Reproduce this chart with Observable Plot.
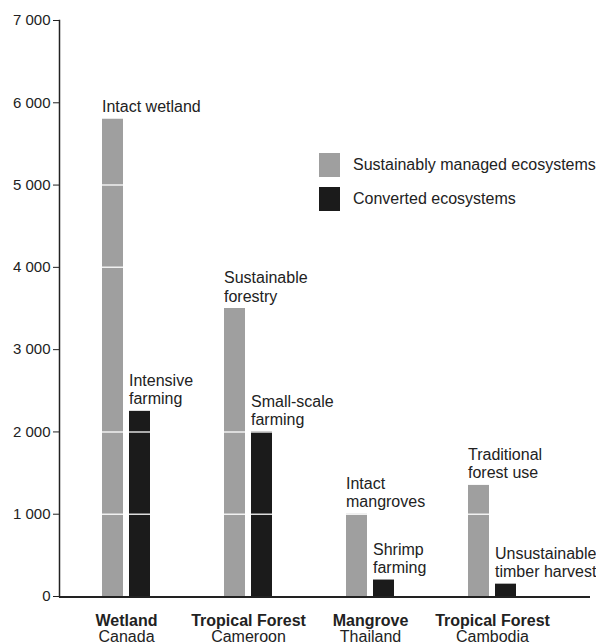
<!DOCTYPE html>
<html>
<head>
<meta charset="utf-8">
<script src="https://cdn.jsdelivr.net/npm/d3@7"></script>
<script src="https://cdn.jsdelivr.net/npm/@observablehq/plot@0.6"></script>
<style>
  body { margin: 0; background: #fff; }
  #wrap { position: relative; width: 596px; height: 643px; font-family: "Liberation Sans", Arial, sans-serif; }
  #legend { position: absolute; left: 319px; top: 153px; font-size: 16px; color: #222; }
  .item { display: flex; align-items: center; height: 24px; margin-bottom: 10px; }
  .sw { width: 21px; height: 24px; margin-right: 13px; }
</style>
</head>
<body>
<div id="wrap">
  <div id="chart"></div>
  <div id="legend"></div>
</div>
<script>
const countries = ["Canada", "Cameroon", "Thailand", "Cambodia"];
const ecosystems = ["Wetland", "Tropical Forest", "Mangrove", "Tropical Forest"];
const sustainable = [5800, 3500, 1000, 1350];
const converted = [2250, 2000, 200, 150];
const sustainableLabels = ["Intact wetland", "Sustainable\nforestry", "Intact\nmangroves", "Traditional\nforest use"];
const convertedLabels = ["Intensive\nfarming", "Small-scale\nfarming", "Shrimp\nfarming", "Unsustainable\ntimber harvest"];
const seriesNames = ["Sustainably managed ecosystems", "Converted ecosystems"];
const seriesColors = ["#9f9f9f", "#1b1b1b"];
const yTicks = [0, 1000, 2000, 3000, 4000, 5000, 6000, 7000];
const segmentLines = [1000, 2000, 4000, 5000];

const bars = [];
countries.forEach((c, i) => {
  bars.push({country: c, type: "S", value: sustainable[i], label: sustainableLabels[i]});
  bars.push({country: c, type: "C", value: converted[i], label: convertedLabels[i]});
});
const groups = countries.map((c, i) => ({country: c, ecosystem: ecosystems[i]}));

const fmt = d => d3.format(",")(d).replace(/,/g, " ");

const chart = Plot.plot({
  width: 596,
  height: 643,
  marginLeft: 59,
  marginRight: 49,
  marginTop: 20,
  marginBottom: 47,
  style: {fontFamily: "'Liberation Sans', Arial, sans-serif", fontSize: "15px", color: "#222", background: "white"},
  fx: {domain: countries, padding: 0, axis: null},
  x: {domain: ["S", "C"], paddingInner: 0.214, paddingOuter: 1.286, align: 0.583, axis: null},
  y: {domain: [0, 7000], ticks: yTicks, tickFormat: fmt, tickSize: 6, tickPadding: 3, label: null},
  color: {domain: ["S", "C"], range: seriesColors},
  marks: [
    Plot.barY(bars, {fx: "country", x: "type", y: "value", fill: "type"}),
    Plot.ruleY(segmentLines, {stroke: "white", strokeWidth: 1.5, strokeOpacity: 0.85}),
    Plot.ruleY([0], {stroke: "#222", strokeWidth: 2, insetRight: -43, shapeRendering: "crispEdges"}),
    Plot.frame({anchor: "left", facetAnchor: "left", stroke: "#222", strokeWidth: 1.5}),
    Plot.text(bars, {fx: "country", x: "type", y: "value", text: "label", textAnchor: "start",
      dx: -11, dy: -7, lineAnchor: "bottom", lineHeight: 1.15, fontSize: 16, fill: "#222"}),
    Plot.text(groups, {fx: "country", text: "ecosystem", frameAnchor: "bottom", dx: 6, dy: 29,
      fontWeight: "bold", fontSize: 16, fill: "#222"}),
    Plot.text(groups, {fx: "country", text: "country", frameAnchor: "bottom", dx: 6, dy: 45,
      fontSize: 16, fill: "#222"})
  ]
});
document.getElementById("chart").appendChild(chart);

const legend = document.getElementById("legend");
seriesNames.forEach((name, i) => {
  const item = document.createElement("div");
  item.className = "item";
  const sw = document.createElement("div");
  sw.className = "sw";
  sw.style.background = seriesColors[i];
  const t = document.createElement("span");
  t.textContent = name;
  item.appendChild(sw);
  item.appendChild(t);
  legend.appendChild(item);
});
</script>
</body>
</html>
